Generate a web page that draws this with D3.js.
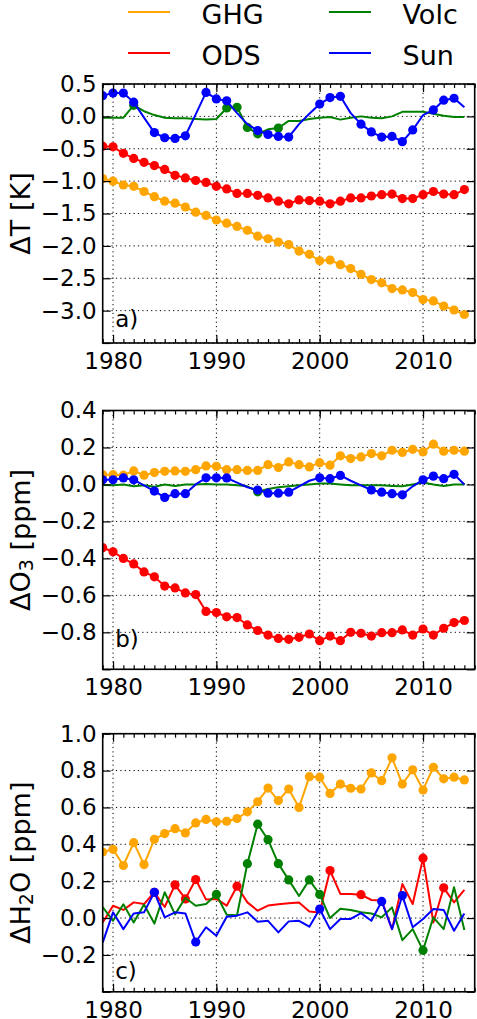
<!DOCTYPE html>
<html><head><meta charset="utf-8">
<script src="https://cdn.jsdelivr.net/npm/d3@7"></script>
<style>
body{margin:0;background:#fff}
svg{display:block}
text{font-family:"DejaVu Sans",sans-serif;fill:#000}
</style>
</head><body>
<svg id="chart" width="477" height="1019"></svg>
<script>
// ---------------- DATA ----------------
const years = [1979,1980,1981,1982,1983,1984,1985,1986,1987,1988,1989,1990,1991,1992,1993,1994,1995,1996,1997,1998,1999,2000,2001,2002,2003,2004,2005,2006,2007,2008,2009,2010,2011,2012,2013,2014];
const seriesNames = ["GHG","ODS","Volc","Sun"];

// Panel a: Delta T [K]
const tempGHG = [-0.96,-1.00,-1.06,-1.08,-1.16,-1.24,-1.31,-1.34,-1.40,-1.48,-1.53,-1.60,-1.65,-1.70,-1.76,-1.85,-1.89,-1.94,-1.98,-2.08,-2.13,-2.23,-2.22,-2.29,-2.35,-2.44,-2.52,-2.57,-2.66,-2.68,-2.72,-2.83,-2.85,-2.93,-2.99,-3.06];
const tempODS = [-0.46,-0.47,-0.57,-0.65,-0.71,-0.76,-0.82,-0.91,-0.95,-0.99,-1.02,-1.08,-1.12,-1.19,-1.19,-1.22,-1.26,-1.31,-1.35,-1.29,-1.30,-1.31,-1.35,-1.31,-1.26,-1.26,-1.23,-1.21,-1.20,-1.27,-1.27,-1.21,-1.16,-1.20,-1.21,-1.13];
const tempVolc = [-0.02,-0.02,-0.02,0.17,0.08,0.02,-0.02,-0.03,-0.03,-0.04,-0.05,-0.04,0.13,0.14,-0.17,-0.27,-0.20,-0.18,-0.07,-0.07,-0.04,-0.02,-0.01,-0.05,-0.02,0.00,-0.02,-0.03,0.00,0.07,0.07,0.07,0.04,0.01,-0.01,-0.01];
const tempSun = [0.32,0.36,0.36,0.22,-0.02,-0.25,-0.33,-0.34,-0.30,0.03,0.37,0.27,0.24,0.05,-0.12,-0.22,-0.28,-0.31,-0.32,-0.12,0.04,0.19,0.29,0.31,0.05,-0.12,-0.24,-0.32,-0.31,-0.39,-0.21,0.02,0.10,0.25,0.28,0.14];
// significance flags (1 = marker drawn)
const tempSigGHG = [1,1,1,1,1,1,1,1,1,1,1,1,1,1,1,1,1,1,1,1,1,1,1,1,1,1,1,1,1,1,1,1,1,1,1,1];
const tempSigODS = [1,1,1,1,1,1,1,1,1,1,1,1,1,1,1,1,1,1,1,1,1,1,1,1,1,1,1,1,1,1,1,1,1,1,1,1];
const tempSigVolc = [0,0,0,1,0,0,0,0,0,0,0,0,1,1,1,1,0,1,0,0,0,0,0,0,0,0,0,0,0,0,0,0,0,0,0,0];
const tempSigSun = [1,1,1,1,0,1,1,1,1,0,1,1,1,0,0,1,1,1,1,0,0,1,1,1,0,1,1,1,1,1,1,0,1,1,1,0];

// Panel b: Delta O3 [ppm]
const o3GHG = [0.053,0.053,0.050,0.073,0.050,0.064,0.071,0.073,0.071,0.080,0.100,0.098,0.080,0.080,0.076,0.076,0.107,0.091,0.122,0.107,0.095,0.118,0.104,0.155,0.140,0.149,0.167,0.155,0.185,0.173,0.190,0.176,0.218,0.180,0.185,0.180];
const o3ODS = [-0.342,-0.364,-0.400,-0.430,-0.473,-0.500,-0.550,-0.560,-0.587,-0.596,-0.687,-0.693,-0.716,-0.720,-0.760,-0.790,-0.815,-0.833,-0.838,-0.827,-0.809,-0.845,-0.820,-0.845,-0.800,-0.805,-0.820,-0.802,-0.802,-0.787,-0.815,-0.782,-0.815,-0.778,-0.747,-0.736];
const o3Volc = [-0.003,-0.005,0.000,-0.010,-0.005,-0.012,0.000,-0.008,0.000,0.000,0.002,0.000,0.000,-0.005,-0.010,-0.040,-0.025,-0.015,-0.010,-0.005,0.000,0.005,0.005,0.000,-0.005,-0.005,-0.005,-0.005,-0.008,-0.010,0.000,0.010,0.000,-0.008,0.000,0.000];
const o3Sun = [0.025,0.025,0.035,0.025,-0.005,-0.036,-0.070,-0.050,-0.050,0.000,0.036,0.036,0.035,0.010,-0.015,-0.030,-0.047,-0.047,-0.042,-0.010,0.020,0.036,0.031,0.049,0.020,-0.005,-0.030,-0.042,-0.050,-0.056,-0.010,0.025,0.045,0.031,0.055,0.000];
const o3SigGHG = tempSigGHG;
const o3SigODS = tempSigODS;
const o3SigVolc = [0,0,0,0,0,0,0,0,0,0,0,0,0,0,0,1,0,0,0,0,0,0,0,0,0,0,0,0,0,0,0,0,0,0,0,0];
const o3SigSun = [1,1,1,1,0,1,1,1,1,0,1,1,1,0,0,1,1,1,1,0,0,1,1,1,0,0,1,1,1,1,0,1,1,1,1,0];

// Panel c: Delta H2O [ppm]
const h2oGHG = [0.358,0.373,0.285,0.409,0.290,0.427,0.458,0.485,0.462,0.516,0.535,0.522,0.525,0.540,0.576,0.631,0.705,0.637,0.700,0.600,0.767,0.764,0.676,0.727,0.704,0.700,0.787,0.745,0.869,0.727,0.804,0.695,0.818,0.755,0.764,0.749];
const h2oODS = [-0.024,0.067,0.044,0.085,0.076,0.140,0.060,0.180,0.104,0.209,0.100,0.104,0.067,0.173,0.085,0.040,0.068,0.075,0.080,0.085,0.035,0.030,0.258,0.131,0.131,0.127,0.098,0.095,-0.060,0.185,0.076,0.325,-0.024,0.164,0.085,0.153];
const h2oVolc = [0.060,-0.015,0.075,-0.024,0.073,-0.030,0.140,0.020,0.110,0.067,0.076,0.128,0.018,0.015,0.295,0.509,0.425,0.295,0.207,0.120,0.207,0.128,0.000,0.050,0.044,0.031,0.025,0.004,0.058,-0.120,-0.060,-0.175,0.004,-0.060,0.167,-0.065];
const h2oSun = [-0.133,0.031,-0.060,0.025,0.031,0.140,0.004,0.031,0.025,-0.130,-0.050,-0.096,0.007,0.013,0.031,-0.020,-0.015,-0.078,-0.018,-0.015,-0.047,0.049,-0.060,-0.005,-0.005,0.027,-0.015,0.090,-0.060,0.122,-0.050,-0.005,0.049,0.044,-0.069,0.025];
const h2oSigGHG = tempSigGHG;
const h2oSigODS = [0,0,0,0,0,1,0,1,1,1,0,0,0,1,0,0,0,0,0,0,0,0,1,0,0,1,0,0,0,0,0,1,0,1,0,0];
const h2oSigVolc = [0,0,0,0,0,0,0,0,0,0,0,1,0,0,1,1,1,1,1,0,1,1,0,0,0,0,0,0,0,0,0,1,0,0,0,0];
const h2oSigSun = [0,0,0,0,0,1,0,0,0,1,0,0,0,0,0,0,0,0,0,0,0,1,0,0,0,0,0,1,0,1,0,0,0,0,0,0];

// ticks
const xMajorTicks = [1980,1990,2000,2010];
const xMinorTicks = [1979,1980,1981,1982,1983,1984,1985,1986,1987,1988,1989,1990,1991,1992,1993,1994,1995,1996,1997,1998,1999,2000,2001,2002,2003,2004,2005,2006,2007,2008,2009,2010,2011,2012,2013,2014,2015];
const tempTicks = [-3.5,-3.0,-2.5,-2.0,-1.5,-1.0,-0.5,0.0,0.5];
const o3Ticks = [-1.0,-0.8,-0.6,-0.4,-0.2,0.0,0.2,0.4];
const h2oTicks = [-0.4,-0.2,0.0,0.2,0.4,0.6,0.8,1.0];
const panelLabels = ["a)","b)","c)"];

// ---------------- STYLE / LAYOUT ----------------
const colors = {GHG:"#FFA500", ODS:"#FF0000", Volc:"#008000", Sun:"#0000FF"};
const L = 102.7, R = 474.7;
const panels = [
  {top:84, bottom:343, domain:[-3.5,0.5], ticks:tempTicks, labelY:327,
   data:{GHG:tempGHG,ODS:tempODS,Volc:tempVolc,Sun:tempSun},
   sig:{GHG:tempSigGHG,ODS:tempSigODS,Volc:tempSigVolc,Sun:tempSigSun},
   ylab:[["ΔT [K]",false]]},
  {top:410.5, bottom:669.3, domain:[-1.0,0.4], ticks:o3Ticks, labelY:647,
   data:{GHG:o3GHG,ODS:o3ODS,Volc:o3Volc,Sun:o3Sun},
   sig:{GHG:o3SigGHG,ODS:o3SigODS,Volc:o3SigVolc,Sun:o3SigSun},
   ylab:[["ΔO",false],["3",true],[" [ppm]",false]]},
  {top:733.7, bottom:991.8, domain:[-0.4,1.0], ticks:h2oTicks, labelY:978.5,
   data:{GHG:h2oGHG,ODS:h2oODS,Volc:h2oVolc,Sun:h2oSun},
   sig:{GHG:h2oSigGHG,ODS:h2oSigODS,Volc:h2oSigVolc,Sun:h2oSigSun},
   ylab:[["ΔH",false],["2",true],["O [ppm]",false]]}
];

const svg = d3.select("#chart");
const x = d3.scaleLinear().domain([1979,2015]).range([L,R]);
const fmtY = d => (d < 0 ? "\u2212" : "") + Math.abs(d).toFixed(1);

panels.forEach((p,pi) => {
  const y = d3.scaleLinear().domain(p.domain).range([p.bottom,p.top]);
  const g = svg.append("g");
  const clipId = "clip"+pi;
  svg.append("clipPath").attr("id",clipId).append("rect")
    .attr("x",L).attr("y",p.top).attr("width",R-L).attr("height",p.bottom-p.top);

  // grid
  const grid = g.append("g");
  grid.selectAll("line.v").data(xMajorTicks).join("line")
    .attr("x1",d=>x(d)).attr("x2",d=>x(d)).attr("y1",p.top).attr("y2",p.bottom);
  grid.selectAll("line.h").data(p.ticks).join("line").attr("class","h")
    .attr("x1",L).attr("x2",R).attr("y1",d=>y(d)).attr("y2",d=>y(d));
  grid.selectAll("line").attr("stroke","#000").attr("stroke-width",1).attr("stroke-dasharray","1.2,3.2");

  // series
  const plot = g.append("g").attr("clip-path",`url(#${clipId})`);
  const line = d3.line().x((d,i)=>x(years[i])).y(d=>y(d));
  seriesNames.forEach(name => {
    const vals = p.data[name], sig = p.sig[name];
    plot.append("path").datum(vals).attr("d",line).attr("fill","none")
      .attr("stroke",colors[name]).attr("stroke-width",2).attr("stroke-linejoin","round");
    plot.append("g").selectAll("circle")
      .data(vals.map((v,i)=>({v,i})).filter(d=>sig[d.i]))
      .join("circle").attr("cx",d=>x(years[d.i])).attr("cy",d=>y(d.v)).attr("r",4.6)
      .attr("fill",colors[name]);
  });

  // axes
  const styleAxis = sel => { sel.select(".domain").remove(); sel.selectAll("line").attr("stroke","#000").attr("stroke-width",1.2); sel.selectAll("text").attr("font-size",23).attr("font-family","DejaVu Sans"); };
  g.append("g").attr("transform",`translate(${L},0)`)
    .call(d3.axisLeft(y).tickValues(p.ticks).tickSizeInner(-8).tickSizeOuter(0).tickPadding(6)
      .tickFormat(d => d === p.domain[0] ? "" : fmtY(d))).call(styleAxis);
  g.append("g").attr("transform",`translate(${R},0)`)
    .call(d3.axisRight(y).tickValues(p.ticks).tickSizeInner(-8).tickSizeOuter(0).tickFormat("")).call(styleAxis);
  g.append("g").attr("transform",`translate(0,${p.bottom})`)
    .call(d3.axisBottom(x).tickValues(xMajorTicks).tickSizeInner(-8).tickSizeOuter(0).tickPadding(9.5)
      .tickFormat(d3.format("d"))).call(styleAxis);
  g.append("g").attr("transform",`translate(0,${p.bottom})`)
    .call(d3.axisBottom(x).tickValues(xMinorTicks).tickSizeInner(-4).tickSizeOuter(0).tickFormat("")).call(styleAxis);
  g.append("g").attr("transform",`translate(0,${p.top})`)
    .call(d3.axisTop(x).tickValues(xMajorTicks).tickSizeInner(-8).tickSizeOuter(0).tickFormat("")).call(styleAxis);
  g.append("g").attr("transform",`translate(0,${p.top})`)
    .call(d3.axisTop(x).tickValues(xMinorTicks).tickSizeInner(-4).tickSizeOuter(0).tickFormat("")).call(styleAxis);

  // frame
  g.append("rect").attr("x",L).attr("y",p.top).attr("width",R-L).attr("height",p.bottom-p.top)
    .attr("fill","none").attr("stroke","#000").attr("stroke-width",1.6);

  // panel label
  g.append("text").attr("x",L+12.5).attr("y",p.labelY).attr("font-size",23).text(panelLabels[pi]);

  // y label
  const cy = (p.top+p.bottom)/2;
  const t = g.append("text").attr("transform",`translate(20,${cy}) rotate(-90)`)
    .attr("text-anchor","middle").attr("dominant-baseline","central").attr("font-size",27);
  p.ylab.forEach(([s,sub]) => {
    if (sub) t.append("tspan").attr("font-size",19).attr("dy",6).text(s);
    else { const ts = t.append("tspan").text(s); if (t.selectAll("tspan").size()>1) ts.attr("dy",-6); }
  });
});

// legend
const legendItems = [
  {name:"GHG", lx:128, ly:12, ty:24}, {name:"ODS", lx:128, ly:53, ty:64.5},
  {name:"Volc", lx:329, ly:12, ty:24}, {name:"Sun", lx:329, ly:53, ty:64.5}
];
const lg = svg.append("g");
legendItems.forEach(it => {
  lg.append("line").attr("x1",it.lx).attr("x2",it.lx+42).attr("y1",it.ly).attr("y2",it.ly)
    .attr("stroke",colors[it.name]).attr("stroke-width",2);
  lg.append("text").attr("x",it.lx+73.5).attr("y",it.ty).attr("font-size",27).text(it.name);
});
</script>
</body></html>
